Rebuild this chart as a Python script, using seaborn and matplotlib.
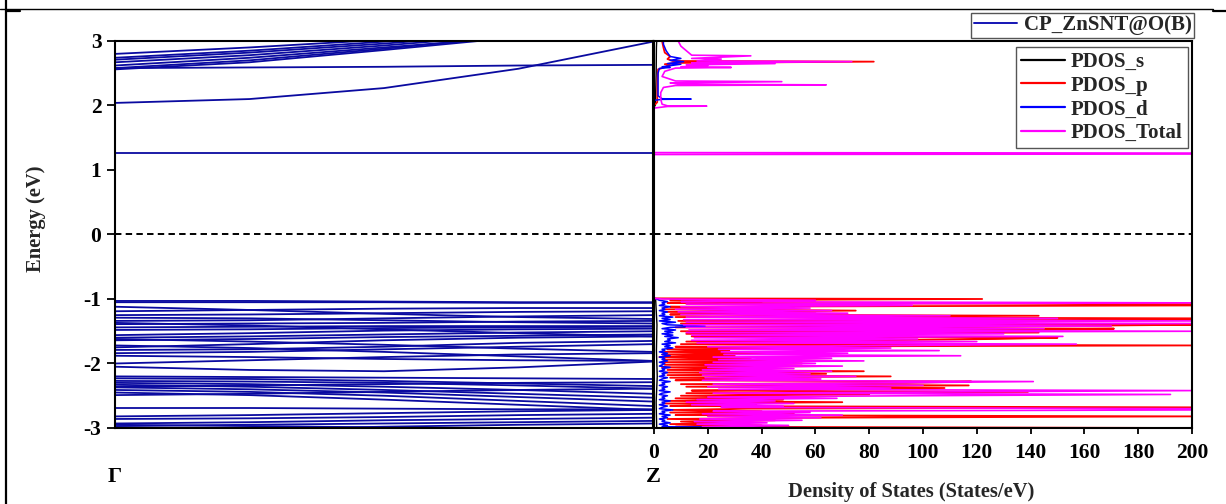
import numpy as np
import pandas as pd
import matplotlib
matplotlib.use("Agg")
import matplotlib.pyplot as plt
import seaborn as sns
from matplotlib.lines import Line2D

# ---------------- data ----------------
kpts = [0.0, 0.25, 0.5, 0.75, 1.0]
k_labels = ["Γ", "Z"]

cond_bands = [
    [1.26, 1.26, 1.26, 1.26, 1.26],
    [2.04, 2.10, 2.27, 2.57, 2.99],
    [2.58, 2.59, 2.60, 2.62, 2.63],
    [2.80, 2.90, 3.02, 3.20, 3.40],
    [2.74, 2.85, 2.99, 3.15, 3.35],
    [2.71, 2.82, 2.96, 3.12, 3.30],
    [2.67, 2.78, 2.93, 3.10, 3.25],
    [2.62, 2.74, 2.90, 3.06, 3.20],
    [2.58, 2.70, 2.88, 3.08, 3.20],
    [2.56, 2.67, 2.86, 3.06, 3.15],
]

val_bands = [
    [-1.03, -1.03, -1.04, -1.05, -1.05],
    [-1.05, -1.05, -1.05, -1.06, -1.06],
    [-1.12, -1.17, -1.23, -1.28, -1.31],
    [-1.19, -1.17, -1.15, -1.14, -1.14],
    [-1.25, -1.24, -1.22, -1.20, -1.19],
    [-1.29, -1.30, -1.33, -1.36, -1.38],
    [-1.34, -1.33, -1.30, -1.27, -1.25],
    [-1.39, -1.38, -1.37, -1.35, -1.34],
    [-1.44, -1.43, -1.42, -1.42, -1.42],
    [-1.48, -1.47, -1.45, -1.44, -1.43],
    [-1.37, -1.41, -1.47, -1.53, -1.58],
    [-1.56, -1.53, -1.49, -1.47, -1.46],
    [-1.60, -1.58, -1.55, -1.52, -1.50],
    [-1.64, -1.62, -1.59, -1.57, -1.55],
    [-1.62, -1.66, -1.71, -1.77, -1.82],
    [-1.75, -1.70, -1.64, -1.60, -1.58],
    [-1.79, -1.78, -1.74, -1.68, -1.65],
    [-1.84, -1.82, -1.78, -1.74, -1.70],
    [-1.72, -1.76, -1.82, -1.89, -1.96],
    [-1.88, -1.90, -1.93, -1.95, -1.96],
    [-2.00, -1.95, -1.90, -1.86, -1.84],
    [-2.05, -2.10, -2.12, -2.06, -1.97],
    [-2.20, -2.21, -2.22, -2.23, -2.24],
    [-2.23, -2.24, -2.27, -2.31, -2.35],
    [-2.27, -2.28, -2.30, -2.34, -2.39],
    [-2.30, -2.32, -2.36, -2.41, -2.47],
    [-2.33, -2.36, -2.41, -2.47, -2.53],
    [-2.37, -2.40, -2.45, -2.52, -2.59],
    [-2.41, -2.44, -2.50, -2.58, -2.66],
    [-2.45, -2.49, -2.56, -2.64, -2.72],
    [-2.49, -2.47, -2.44, -2.41, -2.39],
    [-2.36, -2.34, -2.32, -2.30, -2.29],
    [-2.69, -2.69, -2.70, -2.71, -2.71],
    [-2.82, -2.80, -2.77, -2.74, -2.72],
    [-2.86, -2.85, -2.83, -2.80, -2.78],
    [-2.93, -2.91, -2.88, -2.86, -2.84],
    [-2.97, -2.95, -2.93, -2.91, -2.89],
    [-2.99, -3.01, -3.04, -3.07, -3.10],
    [-2.95, -2.97, -2.99, -3.02, -3.05],
    [-3.06, -3.02, -2.98, -2.95, -2.93],
]

# DOS, valence region sampled every 0.02 eV from -3.00 to -1.00
E_val = np.round(np.arange(-3.0, -0.99, 0.02), 2)

tot_val = [
    45, 18, 50, 16, 42, 15, 55, 17, 62, 20,
    70, 18, 58, 22, 200, 200, 25, 48, 14, 52,
    12, 45, 16, 68, 20, 95, 192, 22, 110, 200,
    24, 88, 20, 100, 22, 85, 141, 18, 62, 19,
    75, 18, 58, 17, 66, 18, 52, 20, 70, 19,
    60, 22, 78, 24, 66, 22, 114, 26, 72, 25,
    106, 24, 88, 20, 95, 157, 16, 120, 14, 98,
    15, 152, 14, 130, 12, 200, 13, 145, 12, 170,
    11, 200, 12, 200, 11, 150, 12, 110, 10, 72,
    9, 66, 8, 58, 10, 96, 12, 200, 10, 60,
    3,
]
p_val = [
    200, 8, 40, 6, 30, 10, 45, 5, 60, 200,
    8, 52, 6, 40, 7, 35, 200, 6, 38, 4,
    70, 5, 48, 8, 55, 10, 80, 12, 139, 14,
    60, 108, 12, 117, 10, 94, 118, 8, 50, 6,
    88, 5, 64, 4, 78, 5, 40, 3, 62, 4,
    55, 3, 70, 4, 36, 2, 30, 3, 42, 4,
    28, 5, 60, 8, 200, 10, 90, 12, 80, 127,
    150, 14, 95, 12, 143, 10, 110, 171, 8, 140,
    200, 10, 120, 9, 200, 200, 8, 143, 6, 60,
    5, 75, 4, 52, 6, 200, 200, 5, 40, 6,
    122,
]
d_val = [
    72, 3, 5, 2, 6, 3, 4, 2, 5, 3,
    6, 2, 4, 3, 7, 2, 3, 5, 2, 4,
    3, 6, 2, 4, 3, 5, 2, 3, 6, 2,
    4, 3, 5, 2, 4, 3, 6, 2, 3, 5,
    2, 4, 3, 5, 2, 4, 3, 6, 2, 3,
    4, 2, 5, 3, 4, 2, 6, 3, 5, 2,
    4, 3, 7, 4, 6, 3, 8, 4, 6, 5,
    9, 4, 7, 3, 7, 4, 8, 3, 6, 19,
    5, 3, 8, 2, 6, 3, 7, 2, 4, 3,
    5, 2, 4, 3, 6, 2, 4, 3, 5, 2,
    1,
]

# DOS above -1 eV (explicit energy / value pairs)
tot_c_E = [-0.99, 1.24, 1.255, 1.27, 1.96, 1.985, 1.99, 1.995, 2.02, 2.10, 2.20, 2.28,
           2.31, 2.32, 2.33, 2.35, 2.37, 2.38, 2.45, 2.53, 2.58, 2.59, 2.60, 2.62,
           2.63, 2.65, 2.66, 2.68, 2.69, 2.72, 2.73, 2.77, 2.78, 2.85, 2.92, 3.0]
tot_c = [0, 0, 400, 0, 0, 5, 19.6, 5, 3, 2.5, 2.5, 3.5,
         8, 64, 10, 6, 47.5, 8, 3, 4, 8, 28.7, 10, 20,
         12, 45, 14, 73.5, 16, 25, 14, 36, 14, 12, 10, 9]
p_c_E = [-0.99, 2.0, 2.05, 2.40, 2.56, 2.58, 2.62, 2.64, 2.66, 2.68, 2.69, 2.72,
         2.76, 2.82, 2.90, 3.0]
p_c = [0, 0, 1.2, 1.3, 1.5, 3, 6, 4, 8, 81.7, 7, 5, 6, 4, 3.5, 3]
d_c_E = [-0.99, 2.08, 2.095, 2.10, 2.105, 2.15, 2.50, 2.575, 2.59, 2.60, 2.64, 2.65,
         2.68, 2.70, 2.73, 2.76, 2.85, 2.95, 3.0]
d_c = [0, 0, 3, 13.8, 3, 1.5, 1.5, 2, 6, 3, 10, 5, 11, 6, 10, 6, 4.5, 3.5, 3.5]

s_E = [-3.0, -2.6, -2.2, -1.8, -1.4, -1.0, -0.98, 1.98, 2.0, 2.5, 2.9, 3.0]
s_v = [1.0, 0.8, 1.2, 0.9, 1.1, 0.6, 0, 0, 0.5, 0.8, 0.9, 1.0]

dos_ticks = list(range(0, 201, 20))
e_ticks = [-3, -2, -1, 0, 1, 2, 3]
e_tick_labels = ["-3", "-2", "-1", "0", "1", "2", "3"]

# ---------------- style ----------------
sns.set_theme(style="ticks")
plt.rcParams["font.family"] = ["Liberation Serif", "DejaVu Serif"]
plt.rcParams["font.weight"] = "bold"
plt.rcParams["axes.labelweight"] = "bold"
plt.rcParams["axes.edgecolor"] = "black"
plt.rcParams["xtick.color"] = "black"
plt.rcParams["ytick.color"] = "black"

BAND_C = "#0A0AA0"
FS_TICK = 15.5
FS_LEG = 15
FS_LAB = 14.8

W, H = 1226, 504
fig = plt.figure(figsize=(W / 100, H / 100), dpi=100)
fig.patch.set_facecolor("white")
axb = fig.add_axes([115 / W, 1 - 428 / H, 538 / W, 387 / H])
axd = fig.add_axes([654 / W, 1 - 428 / H, 538 / W, 387 / H])

# ---------------- bands ----------------
rows = []
for bi, vals in enumerate(cond_bands + val_bands):
    for k, e in zip(kpts, vals):
        rows.append((bi, k, e))
df_b = pd.DataFrame(rows, columns=["band", "k", "E"])
sns.lineplot(data=df_b, x="k", y="E", units="band", estimator=None, sort=False,
             color=BAND_C, lw=1.3, ax=axb, legend=False)
axb.axhline(0, color="black", lw=1.4, ls=(0, (3.3, 2.2)))
axb.set_xlim(0, 1)
axb.set_ylim(-3, 3)
axb.set_yticks(e_ticks)
axb.set_yticklabels(e_tick_labels)
axb.set_xticks([0, 1])
axb.set_xticklabels(k_labels)
axb.tick_params(axis="y", direction="out", length=5.8, width=1.3, pad=4, labelsize=FS_TICK, left=True)
axb.tick_params(axis="x", length=0, pad=28, labelsize=FS_TICK + 0.5, bottom=True)
axb.set_xlabel("")
axb.set_ylabel("Energy (eV)", fontsize=FS_LAB, fontweight="bold")
axb.yaxis.set_label_coords(-0.128, 0.54)
for sp in axb.spines.values():
    sp.set_linewidth(1.5)
    sp.set_color("black")

# ---------------- DOS ----------------
def dos_frame(Ev, vv, Ec, vc):
    return pd.DataFrame({"E": list(Ev) + list(Ec), "v": list(vv) + list(vc)})

df_s = pd.DataFrame({"E": s_E, "v": s_v})
df_p = dos_frame(E_val, p_val, p_c_E, p_c)
df_d = dos_frame(E_val, d_val, d_c_E, d_c)
df_t = dos_frame(E_val, tot_val, tot_c_E, tot_c)

sns.lineplot(data=df_s, x="v", y="E", sort=False, estimator=None, color="black", lw=1.0, ax=axd, label="PDOS_s")
sns.lineplot(data=df_p, x="v", y="E", sort=False, estimator=None, color="#FF0000", lw=1.3, ax=axd, label="PDOS_p")
sns.lineplot(data=df_d, x="v", y="E", sort=False, estimator=None, color="#0000FF", lw=1.1, ax=axd, label="PDOS_d")
sns.lineplot(data=df_t, x="v", y="E", sort=False, estimator=None, color="#FF00FF", lw=1.2, ax=axd, label="PDOS_Total")
axd.axhline(0, color="black", lw=1.4, ls=(0, (3.3, 2.2)))
axd.set_xlim(0, 200)
axd.set_ylim(-3, 3)
axd.set_xticks(dos_ticks)
axd.set_xticklabels([str(t) for t in dos_ticks])
axd.tick_params(axis="x", direction="out", length=4.5, width=1.3, pad=6, labelsize=FS_TICK, bottom=True)
axd.tick_params(axis="y", left=False, labelleft=False)
axd.set_xlabel("")
axd.set_ylabel("")
for sp in axd.spines.values():
    sp.set_linewidth(1.5)
    sp.set_color("black")

leg2 = axd.legend(loc="upper right", bbox_to_anchor=((1188 - 654) / 538, (428 - 46.7) / 387),
                  prop={"weight": "bold", "size": FS_LEG}, frameon=True, fancybox=False,
                  edgecolor="#555555", framealpha=1, handlelength=2.1, handletextpad=0.3,
                  labelspacing=0.18, borderpad=0.25, borderaxespad=0)
leg2.get_frame().set_linewidth(1.0)
for ln in leg2.get_lines():
    ln.set_linewidth(1.6)

fig.text(911 / W, 1 - 492 / H, "Density of States (States/eV)", ha="center", va="center",
         fontsize=FS_LAB, fontweight="bold")

leg1 = fig.legend(handles=[Line2D([], [], color="#1414B4", lw=1.4)], labels=["CP_ZnSNT@O(B)"],
                  loc="upper right", bbox_to_anchor=(1194 / W, 1 - 12.7 / H),
                  prop={"weight": "bold", "size": FS_LEG}, frameon=True, fancybox=False,
                  edgecolor="#555555", framealpha=1, handlelength=2.1, handletextpad=0.3,
                  borderpad=0.12, borderaxespad=0)
leg1.get_frame().set_linewidth(1.0)

# page frame lines
fig.add_artist(Line2D([6 / W, 6 / W], [0, 1], transform=fig.transFigure, color="black", lw=1.6))
fig.add_artist(Line2D([0, 1213 / W], [1 - 9.3 / H] * 2, transform=fig.transFigure, color="black", lw=1.0))
fig.add_artist(Line2D([1213 / W, 1], [1 - 11 / H] * 2, transform=fig.transFigure, color="black", lw=1.6))
fig.add_artist(Line2D([6 / W, 20 / W], [1 - 11 / H] * 2, transform=fig.transFigure, color="black", lw=1.6))

fig.savefig("out.png", dpi=100, facecolor="white")
